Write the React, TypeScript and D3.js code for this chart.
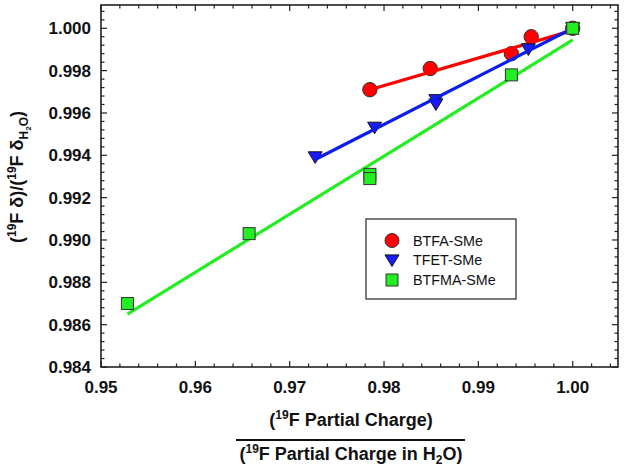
import React from "react";
import * as d3 from "d3";

const btfaX = [0.9785, 0.9849, 0.9935, 0.9956, 1.0];
const btfaY = [0.9971, 0.9981, 0.9988, 0.9996, 1.0];
const tfetX = [0.9727, 0.979, 0.9855, 0.9855, 0.9953, 1.0];
const tfetY = [0.9939, 0.9953, 0.9966, 0.9964, 0.999, 1.0];
const btfmaX = [0.9528, 0.9657, 0.9785, 0.9785, 0.9935, 1.0];
const btfmaY = [0.987, 0.9903, 0.9931, 0.9929, 0.9978, 1.0];

const btfaFitX = [0.9785, 1.0];
const btfaFitY = [0.9971, 0.9999];
const tfetFitX = [0.9727, 1.0];
const tfetFitY = [0.9938, 1.0];
const btfmaFitX = [0.9528, 1.0];
const btfmaFitY = [0.9865, 0.99945];

const xTicks = [0.95, 0.96, 0.97, 0.98, 0.99, 1.0];
const yTicks = [0.984, 0.986, 0.988, 0.99, 0.992, 0.994, 0.996, 0.998, 1.0];
const legendNames = ["BTFA-SMe", "TFET-SMe", "BTFMA-SMe"];

const FONT = "'Liberation Sans', Arial, sans-serif";

export default function App() {
  const L = 101, R = 618, T = 5, B = 367;
  const x = d3.scaleLinear().domain([0.95, 1.0048]).range([L, R]);
  const y = d3.scaleLinear().domain([0.984, 1.0011]).range([B, T]);

  const xMinor = d3.range(0, 28).map((i) => 0.95 + i * 0.002).filter((v) => v <= 1.0048);
  const yMinor = d3.range(0, 43).map((i) => 0.984 + i * 0.0004).filter((v) => v <= 1.0011);
  const isMajorX = (v: number) => Math.abs(v * 100 - Math.round(v * 100)) < 1e-6;
  const isMajorY = (v: number) => Math.abs(v * 500 - Math.round(v * 500)) < 1e-6;

  const line = d3.line<[number, number]>().x((d) => x(d[0])).y((d) => y(d[1]));
  const zip = (a: number[], b: number[]) => a.map((v, i) => [v, b[i]] as [number, number]);

  const red = "#ff0000";
  const blue = "#1a1aff";
  const green = "#22ee22";
  const lineBlue = "#0a1ee6";
  const lineGreen = "#22ee22";
  const edge = "#333";

  const tri = (cx: number, cy: number, s: number) =>
    `M${cx - s},${cy - s * 0.8}L${cx + s},${cy - s * 0.8}L${cx},${cy + s * 0.85}Z`;

  return (
    <svg width={625} height={468} style={{ position: "absolute", left: 0, top: 0, background: "#fff" }}>
      <rect x={0} y={0} width={625} height={468} fill="#fff" />
      {/* ticks */}
      <g stroke="#222" strokeWidth={1.2}>
        {xMinor.map((v, i) => {
          const len = isMajorX(v) ? 6 : 3.5;
          return (
            <g key={"xt" + i}>
              <line x1={x(v)} x2={x(v)} y1={B} y2={B - len} />
              <line x1={x(v)} x2={x(v)} y1={T} y2={T + len} />
            </g>
          );
        })}
        {yMinor.map((v, i) => {
          const len = isMajorY(v) ? 6 : 3.5;
          return (
            <g key={"yt" + i}>
              <line x1={L} x2={L + len} y1={y(v)} y2={y(v)} />
              <line x1={R} x2={R - len} y1={y(v)} y2={y(v)} />
            </g>
          );
        })}
      </g>
      <rect x={L} y={T} width={R - L} height={B - T} fill="none" stroke="#222" strokeWidth={1.6} />

      {/* tick labels */}
      <g fontFamily={FONT} fontWeight="bold" fontSize={17} fill="#111">
        {xTicks.map((v) => (
          <text key={"xl" + v} x={x(v)} y={B + 26} textAnchor="middle">
            {v.toFixed(2)}
          </text>
        ))}
        {yTicks.map((v) => (
          <text key={"yl" + v} x={L - 10} y={y(v) + 6} textAnchor="end">
            {v.toFixed(3)}
          </text>
        ))}
      </g>

      {/* red series */}
      {btfaX.map((v, i) => (
        <circle key={"r" + i} cx={x(v)} cy={y(btfaY[i])} r={7.2} fill={red} stroke={edge} strokeWidth={1} />
      ))}
      <path d={line(zip(btfaFitX, btfaFitY)) || ""} stroke={red} strokeWidth={3.2} fill="none" />

      {/* blue series */}
      {tfetX.map((v, i) => (
        <path key={"b" + i} d={tri(x(v), y(tfetY[i]), 7)} fill={blue} stroke="#111" strokeWidth={1} />
      ))}
      <path d={line(zip(tfetFitX, tfetFitY)) || ""} stroke={lineBlue} strokeWidth={3.2} fill="none" />

      {/* green series */}
      <path d={line(zip(btfmaFitX, btfmaFitY)) || ""} stroke={lineGreen} strokeWidth={3.2} fill="none" />
      {btfmaX.map((v, i) => (
        <rect key={"g" + i} x={x(v) - 6} y={y(btfmaY[i]) - 6} width={12} height={12} fill={green} stroke={edge} strokeWidth={1} />
      ))}

      {/* legend */}
      <g>
        <rect x={366} y={219} width={150} height={80} fill="#fff" stroke="#444" strokeWidth={1.4} />
        <circle cx={392} cy={240.5} r={7} fill={red} stroke={edge} strokeWidth={1} />
        <path d={tri(392, 260.5, 7)} fill={blue} stroke="#111" strokeWidth={1} />
        <rect x={386} y={274} width={12} height={12} fill={green} stroke={edge} strokeWidth={1} />
        {legendNames.map((n, i) => (
          <text key={n} x={413} y={245.5 + i * 19.7} fontFamily={FONT} fontSize={14.3} fill="#111">
            {n}
          </text>
        ))}
      </g>

      {/* x title */}
      <g fontFamily={FONT} fontWeight="bold" fontSize={18} fill="#111">
        <text x={351} y={426} textAnchor="middle">
          <tspan>(</tspan>
          <tspan fontSize={12} dy={-7}>19</tspan>
          <tspan dy={7}>F Partial Charge)</tspan>
        </text>
        <line x1={236} x2={465} y1={440} y2={440} stroke="#111" strokeWidth={2} />
        <text x={351} y={460} textAnchor="middle">
          <tspan>(</tspan>
          <tspan fontSize={12} dy={-7}>19</tspan>
          <tspan dy={7}>F Partial Charge in H</tspan>
          <tspan fontSize={12} dy={4}>2</tspan>
          <tspan dy={-4}>O)</tspan>
        </text>
      </g>

      {/* y title */}
      <g fontFamily={FONT} fontWeight="bold" fontSize={18} fill="#111">
        <text transform="translate(23,177) rotate(-90)" textAnchor="middle">
          <tspan>(</tspan>
          <tspan fontSize={12} dy={-7}>19</tspan>
          <tspan dy={7}>F δ)/(</tspan>
          <tspan fontSize={12} dy={-7}>19</tspan>
          <tspan dy={7}>F δ</tspan>
          <tspan fontSize={12} dy={5}>H</tspan>
          <tspan fontSize={8} dy={3}>2</tspan>
          <tspan fontSize={12} dy={-3}>O</tspan>
          <tspan dy={-5}>)</tspan>
        </text>
      </g>
    </svg>
  );
}
